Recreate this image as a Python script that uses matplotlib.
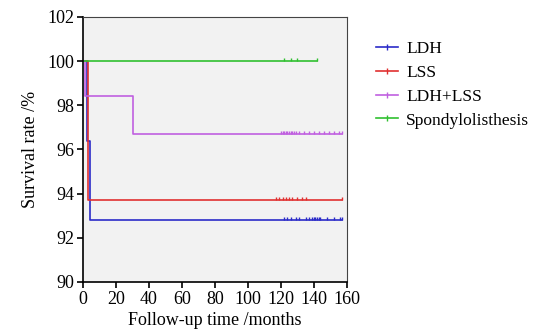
import matplotlib
matplotlib.use("Agg")
import matplotlib.pyplot as plt
from matplotlib.lines import Line2D

# Step data (time in months, survival %)
ldh_t = [0, 2.4, 4.2, 157]
ldh_s = [100, 96.4, 92.8, 92.8]
ldh_cens = [122, 124, 126, 129, 131, 135, 137, 139, 140, 141, 142, 143, 144, 148, 152, 156, 157]

lss_t = [0, 3.2, 157]
lss_s = [100, 93.7, 93.7]
lss_cens = [117, 119, 121, 123, 125, 127, 130, 133, 135, 157]

mix_t = [0, 1.0, 30, 157]
mix_s = [100, 98.4, 96.7, 96.7]
mix_cens = [120, 121, 122, 123, 124, 125, 126, 127, 128, 129, 131, 134, 137, 140, 143, 146, 149, 152, 155, 157]

spo_t = [0, 142]
spo_s = [100, 100]
spo_cens = [122, 126, 130, 142]

labels = ["LDH", "LSS", "LDH+LSS", "Spondylolisthesis"]
colors = ["#2b2bc8", "#e03030", "#c060e0", "#30c030"]

xticks = [0, 20, 40, 60, 80, 100, 120, 140, 160]
yticks = [90, 92, 94, 96, 98, 100, 102]

plt.rcParams['font.family'] = ['Liberation Serif', 'DejaVu Serif']

fig = plt.figure(figsize=(5.36, 3.32), dpi=100)
ax = fig.add_axes([0.155, 0.151, 0.492, 0.798])
ax.set_facecolor("#f2f2f2")

tick_marker = [(0, 0), (0, 1)]

def surv_at(ts, ss, x):
    val = ss[0]
    for t, s in zip(ts, ss):
        if x >= t:
            val = s
    return val

series = [(ldh_t, ldh_s, ldh_cens), (lss_t, lss_s, lss_cens),
          (mix_t, mix_s, mix_cens), (spo_t, spo_s, spo_cens)]
for (ts, ss, cens), c in zip(series, colors):
    ax.step(ts, ss, where='post', color=c, lw=1.2)
    ax.plot(cens, [surv_at(ts, ss, x) for x in cens], linestyle='none',
            marker=tick_marker, markersize=4, color=c, markeredgewidth=1.0)

ax.set_xlim(0, 160)
ax.set_ylim(90, 102)
ax.set_xticks(xticks)
ax.set_yticks(yticks)
ax.tick_params(labelsize=13, length=4, width=1.2, direction='out', colors='black', pad=2.5)
for sp in ax.spines.values():
    sp.set_linewidth(1.2)
    sp.set_color('black')
ax.spines['top'].set_color('#444444')
ax.spines['right'].set_color('#444444')
ax.spines['top'].set_linewidth(0.8)
ax.spines['right'].set_linewidth(0.8)
ax.set_xlabel("Follow-up time /months", fontsize=13, labelpad=3)
ax.set_ylabel("Survival rate /%", fontsize=13, labelpad=6)

handles = [Line2D([0], [0], color=c, lw=1.2, marker='|', markersize=4) for c in colors]
fig.legend(handles, labels, loc='upper left', bbox_to_anchor=(0.672, 0.925),
           frameon=False, fontsize=12.5, handlelength=1.3, labelspacing=0.45,
           handletextpad=0.45)

fig.savefig("out.png", dpi=100)
